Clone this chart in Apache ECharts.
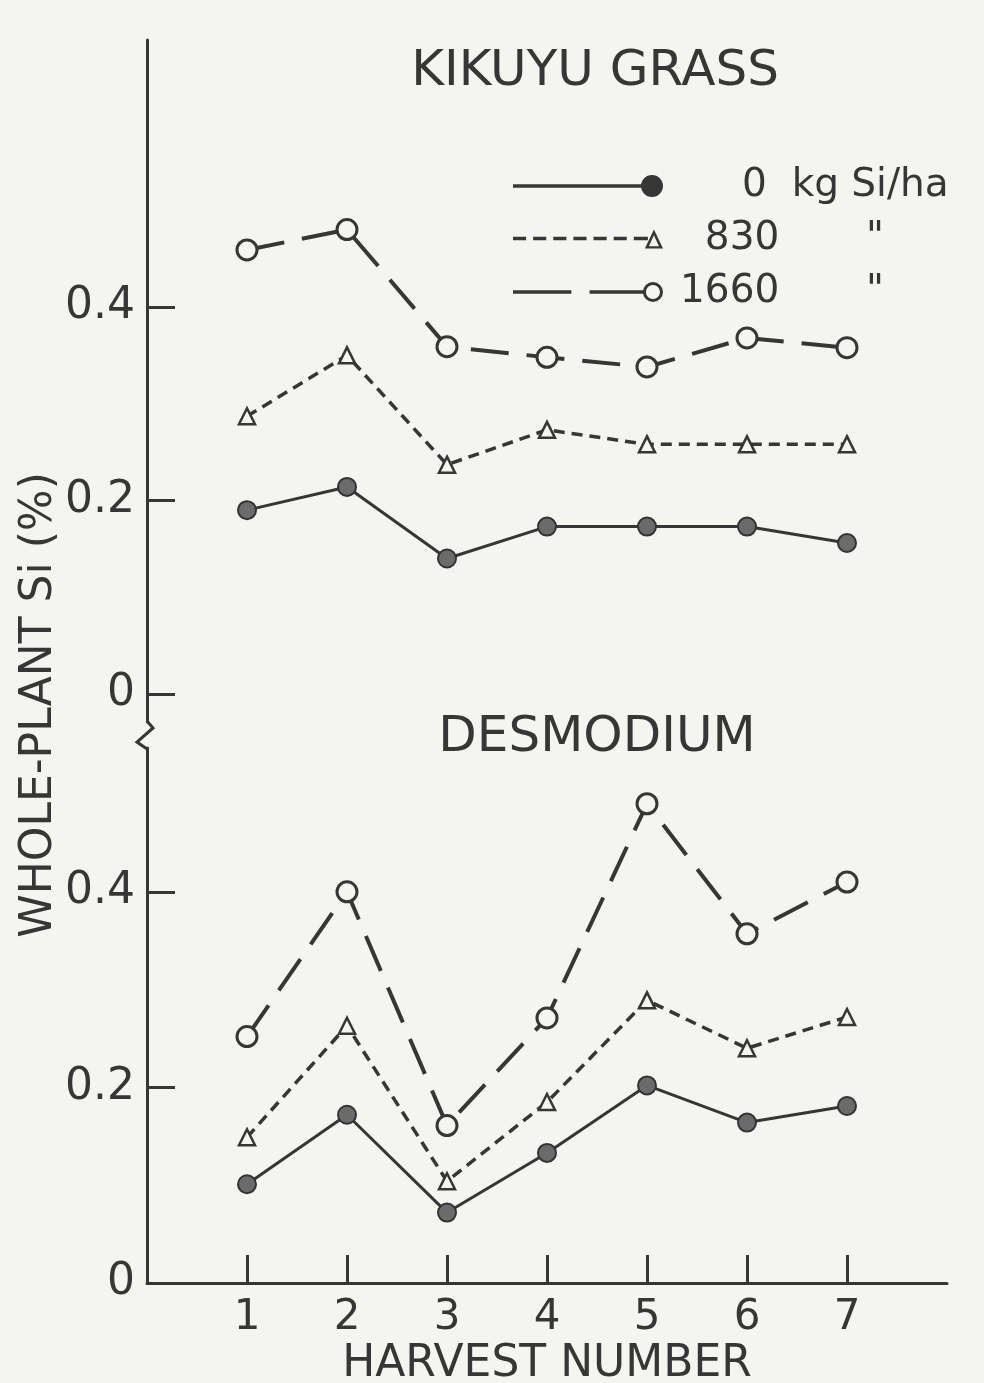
<!DOCTYPE html>
<html>
<head>
<meta charset="utf-8">
<script src="https://cdn.jsdelivr.net/npm/echarts@6/dist/echarts.min.js"></script>
<style>
  html, body { margin: 0; padding: 0; background: #f4f4f1; }
  #chart { width: 984px; height: 1383px; }
</style>
</head>
<body>
<div id="chart"></div>
<script>
// harvest numbers on the x axis
const harvests = [1, 2, 3, 4, 5, 6, 7]
const rates = ['0', '830', '1660']
const yTicks = [0, 0.2, 0.4]

// kikuyu grass, whole-plant Si (%)
const kikuyu0 = [0.190, 0.214, 0.140, 0.173, 0.173, 0.173, 0.156]
const kikuyu830 = [0.287, 0.350, 0.237, 0.273, 0.258, 0.258, 0.258]
const kikuyu1660 = [0.459, 0.480, 0.359, 0.348, 0.338, 0.368, 0.358]

// desmodium, whole-plant Si (%)
const desmo0 = [0.101, 0.172, 0.072, 0.133, 0.202, 0.164, 0.181]
const desmo830 = [0.149, 0.263, 0.104, 0.185, 0.289, 0.240, 0.272]
const desmo1660 = [0.252, 0.400, 0.161, 0.271, 0.490, 0.357, 0.410]

const ink = '#363636'
const bg = '#f4f4f1'
const font = 'DejaVu Sans'
const FS = '\u2007'  // figure space, same width as a digit

const pairs = vals => vals.map((v, i) => [harvests[i], v])

// one style per Si rate
const styles = {
  '0': {
    lineStyle: { color: ink, width: 3, type: 'solid' },
    symbol: 'circle', symbolSize: 18,
    itemStyle: { color: '#6b6b6b', borderColor: '#333', borderWidth: 2 }
  },
  '830': {
    lineStyle: { color: ink, width: 3.5, type: [11, 7] },
    symbol: 'triangle', symbolSize: 16,
    itemStyle: { color: bg, borderColor: ink, borderWidth: 2.5 }
  },
  '1660': {
    lineStyle: { color: ink, width: 4, type: [38, 18] },
    symbol: 'circle', symbolSize: 20,
    itemStyle: { color: bg, borderColor: ink, borderWidth: 3 }
  }
}

// legend samples: line (or dashes) with the marker at the right end, drawn in a 150x22 box
const circ = (cx, cy, r, sweep) =>
  'M' + (cx - r) + ',' + cy + 'A' + r + ',' + r + ' 0 1,' + sweep + ' ' + (cx + r) + ',' + cy +
  'A' + r + ',' + r + ' 0 1,' + sweep + ' ' + (cx - r) + ',' + cy + 'Z'
const bar = (x0, x1) => 'M' + x0 + ',9.3L' + x1 + ',9.3L' + x1 + ',12.7L' + x0 + ',12.7Z'
const icons = {
  '0': 'path://' + bar(0, 130) + circ(139, 11, 11, 1),
  '830': 'path://' + [0, 20, 40, 60, 80, 100].map(x => bar(x, x + 13)).join('') + bar(120, 134) +
    'M131,21L140,2L149,21Z' + 'M135,18.6L145,18.6L140,7.8Z',
  '1660': 'path://' + bar(0, 58) + bar(76, 130) + circ(139, 11, 10, 1) + circ(139, 11, 7, 0)
}

const makeSeries = (name, vals, idx) => Object.assign({
  name: name,
  type: 'line',
  xAxisIndex: idx,
  yAxisIndex: idx,
  data: pairs(vals),
  showSymbol: true,
  z: 3,
  animation: false
}, JSON.parse(JSON.stringify(styles[name])))

const xBase = {
  type: 'value',
  min: 0,
  max: 8,
  interval: 1,
  splitLine: { show: false }
}

const yBase = {
  type: 'value',
  splitLine: { show: false },
  axisLine: { show: true, onZero: false, lineStyle: { color: ink, width: 3 } },
  axisTick: { show: true, inside: true, length: 28, lineStyle: { color: ink, width: 3 }, customValues: yTicks },
  axisLabel: {
    color: ink, fontFamily: font, fontSize: 44, margin: 12,
    customValues: yTicks,
    formatter: v => v === 0 ? '0' : v.toFixed(1)
  }
}

const chart = echarts.init(document.getElementById('chart'))
chart.setOption({
  backgroundColor: bg,
  animation: false,
  title: [
    {
      text: 'KIKUYU GRASS', left: 590, top: 42, textAlign: 'center',
      textStyle: { color: ink, fontFamily: font, fontWeight: 'normal', fontSize: 50 }
    },
    {
      text: 'DESMODIUM', left: 592, top: 708, textAlign: 'center',
      textStyle: { color: ink, fontFamily: font, fontWeight: 'normal', fontSize: 50 }
    }
  ],
  legend: {
    left: 508,
    top: 158,
    orient: 'vertical',
    itemWidth: 150,
    itemHeight: 22,
    itemGap: 7,
    selectedMode: false,
    data: rates.map(r => ({
      name: r,
      icon: icons[r],
      itemStyle: { color: ink, borderWidth: 0 }
    })),
    formatter: name => name === '0'
      ? FS + FS + ' 0  kg Si/ha'
      : (name.length === 3 ? FS + name : name) + FS + FS + FS + ' "',
    textStyle: { color: ink, fontFamily: font, fontSize: 39, lineHeight: 46, padding: [0, 0, 0, 12] }
  },
  grid: [
    { left: 147, width: 800, top: 40, height: 682, outerBoundsMode: 'none' },
    { left: 147, width: 800, top: 748, height: 535, outerBoundsMode: 'none' }
  ],
  xAxis: [
    Object.assign({}, xBase, {
      gridIndex: 0, show: false
    }),
    Object.assign({}, xBase, {
      gridIndex: 1,
      axisLine: { show: true, lineStyle: { color: ink, width: 3 } },
      axisTick: { show: true, inside: true, length: 28, lineStyle: { color: ink, width: 3 }, customValues: harvests },
      axisLabel: { color: ink, fontFamily: font, fontSize: 42, margin: 14, customValues: harvests },
      name: 'HARVEST NUMBER',
      nameLocation: 'middle',
      nameGap: 60,
      nameTextStyle: { color: ink, fontFamily: font, fontSize: 44 }
    })
  ],
  yAxis: [
    Object.assign({}, yBase, { gridIndex: 0, min: -0.029, max: 0.676 }),
    Object.assign({}, yBase, { gridIndex: 1, min: 0, max: 0.547 })
  ],
  graphic: [
    {
      // axis break mark between the two panels
      type: 'polyline',
      shape: { points: [[147, 721], [153, 728], [137, 742], [147, 749]] },
      style: { stroke: ink, lineWidth: 3, fill: null }
    },
    {
      type: 'text',
      x: 40,
      y: 705,
      rotation: Math.PI / 2,
      style: {
        text: 'WHOLE-PLANT Si (%)',
        fill: ink,
        font: '44px "' + font + '"',
        align: 'center',
        verticalAlign: 'middle'
      }
    }
  ],
  series: [
    makeSeries('0', kikuyu0, 0),
    makeSeries('830', kikuyu830, 0),
    makeSeries('1660', kikuyu1660, 0),
    makeSeries('0', desmo0, 1),
    makeSeries('830', desmo830, 1),
    makeSeries('1660', desmo1660, 1)
  ]
})
</script>
</body>
</html>
